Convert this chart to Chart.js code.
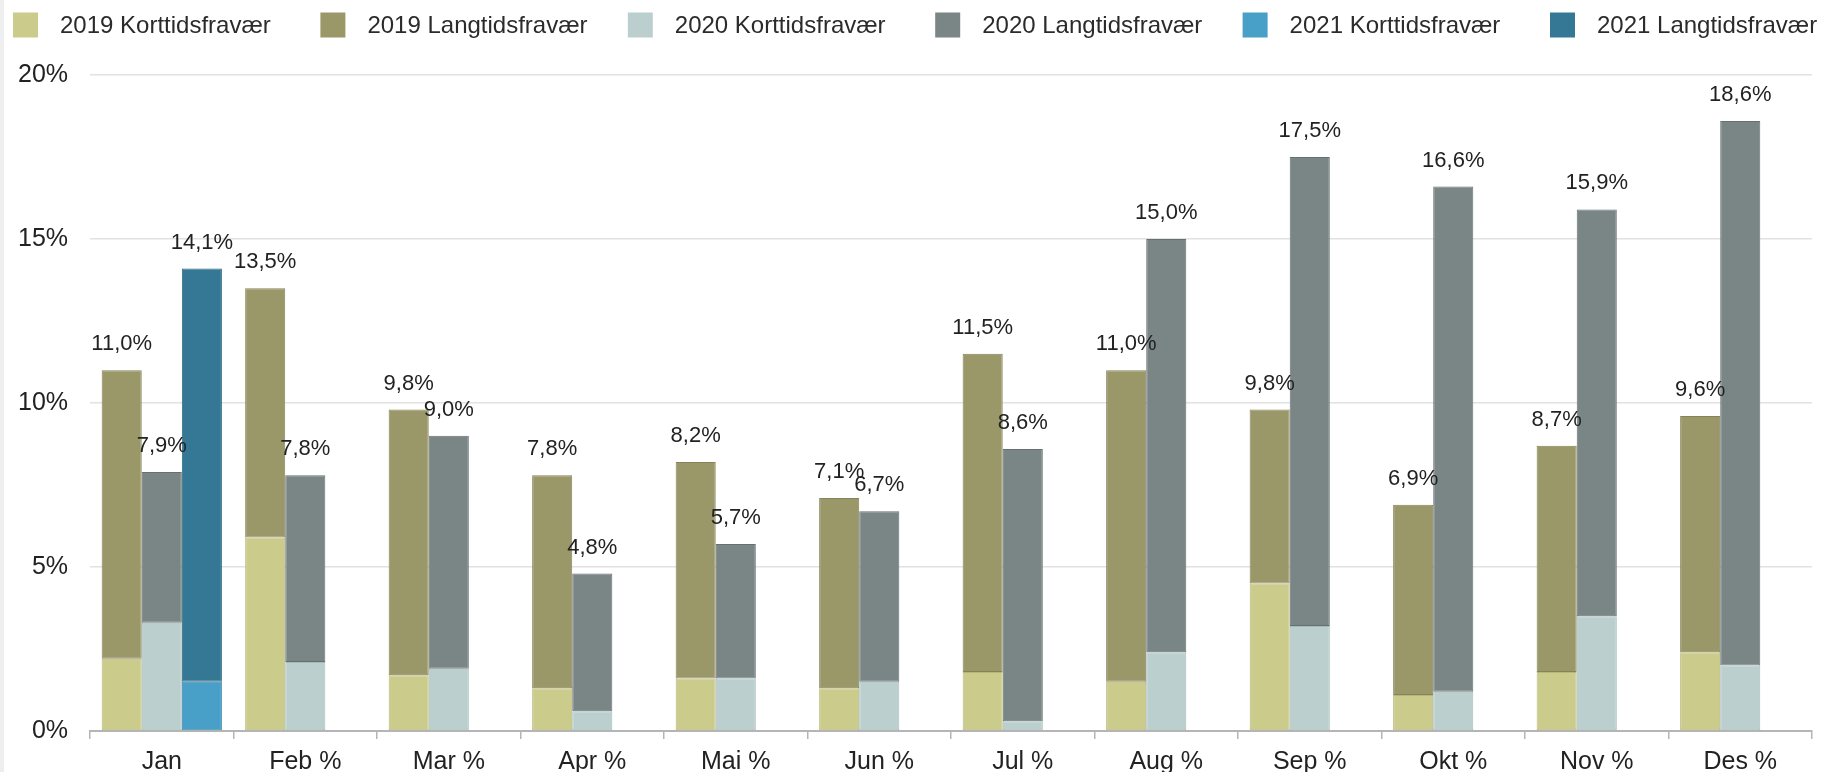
<!DOCTYPE html>
<html>
<head>
<meta charset="utf-8">
<script src="https://cdn.jsdelivr.net/npm/chart.js@4/dist/chart.umd.min.js"></script>
<style>
  html, body { margin: 0; padding: 0; background: #ffffff; }
  #wrap { width: 1821px; height: 772px; }
</style>
</head>
<body>
<div id="wrap"><canvas id="c" width="1821" height="772"></canvas></div>
<script>
// ---- data ----
const months = ['Jan', 'Feb %', 'Mar %', 'Apr %', 'Mai %', 'Jun %', 'Jul %', 'Aug %', 'Sep %', 'Okt %', 'Nov %', 'Des %'];
const seriesNames = ['2019 Korttidsfravær', '2019 Langtidsfravær', '2020 Korttidsfravær', '2020 Langtidsfravær', '2021 Korttidsfravær', '2021 Langtidsfravær'];
const kort2019 = [2.2, 5.9, 1.7, 1.3, 1.6, 1.3, 1.8, 1.5, 4.5, 1.1, 1.8, 2.4];
const lang2019 = [8.8, 7.6, 8.1, 6.5, 6.6, 5.8, 9.7, 9.5, 5.3, 5.8, 6.9, 7.2];
const kort2020 = [3.3, 2.1, 1.9, 0.6, 1.6, 1.5, 0.3, 2.4, 3.2, 1.2, 3.5, 2.0];
const lang2020 = [4.6, 5.7, 7.1, 4.2, 4.1, 5.2, 8.3, 12.6, 14.3, 15.4, 12.4, 16.6];
const kort2021 = [1.5, null, null, null, null, null, null, null, null, null, null, null];
const lang2021 = [12.6, null, null, null, null, null, null, null, null, null, null, null];
const yTicks = [0, 5, 10, 15, 20];

const FONT = "'Liberation Sans', Arial, sans-serif";

const fills   = ['#cbcb8c', '#9a9868', '#bbcfcf', '#798685', '#48a0c8', '#347896'];
const borders = ['#b7b77c', '#85835a', '#a7bbbb', '#66716f', '#3e8cb0', '#2c6983'];
const values  = [kort2019, lang2019, kort2020, lang2020, kort2021, lang2021];
const stacks  = ['2019', '2019', '2020', '2020', '2021', '2021'];

const datasets = values.map((v, i) => ({
  label: seriesNames[i],
  data: v,
  stack: stacks[i],
  backgroundColor: fills[i],
  borderColor: borders[i],
  borderWidth: 1,
  borderSkipped: false
}));

// background + thin left strip
const bgPlugin = {
  id: 'bg',
  beforeDraw(chart) {
    const ctx = chart.ctx;
    ctx.save();
    ctx.fillStyle = '#ffffff';
    ctx.fillRect(0, 0, chart.width, chart.height);
    ctx.fillStyle = '#eeeeee';
    ctx.fillRect(0, 0, 4, chart.height);
    ctx.restore();
  }
};

// legend drawn in a row across the top
const legendPlugin = {
  id: 'topLegend',
  afterDraw(chart) {
    const ctx = chart.ctx;
    ctx.save();
    ctx.font = '24px ' + FONT;
    ctx.textBaseline = 'middle';
    ctx.textAlign = 'left';
    chart.data.datasets.forEach((ds, i) => {
      const x0 = 13 + i * 307.4;
      ctx.fillStyle = ds.backgroundColor;
      ctx.fillRect(x0, 12.5, 25, 25);
      ctx.fillStyle = '#2b2b2b';
      ctx.fillText(ds.label, x0 + 47, 26);
    });
    ctx.restore();
  }
};

// total labels above each stack
const totalsPlugin = {
  id: 'totals',
  afterDatasetsDraw(chart) {
    const ctx = chart.ctx;
    const y = chart.scales.y;
    ctx.save();
    ctx.font = '22px ' + FONT;
    ctx.fillStyle = '#222222';
    ctx.textAlign = 'center';
    ctx.textBaseline = 'alphabetic';
    const groups = [[0, 1], [2, 3], [4, 5]];
    groups.forEach(g => {
      const metaTop = chart.getDatasetMeta(g[1]);
      months.forEach((m, j) => {
        const a = values[g[0]][j], b = values[g[1]][j];
        if (a == null || b == null) return;
        const total = a + b;
        const bar = metaTop.data[j];
        const py = y.getPixelForValue(total);
        ctx.fillText(total.toFixed(1).replace('.', ',') + '%', bar.x, py - 20);
      });
    });
    ctx.restore();
  }
};

new Chart(document.getElementById('c'), {
  type: 'bar',
  data: { labels: months, datasets },
  options: {
    responsive: false,
    animation: false,
    events: [],
    layout: { padding: { top: 75, right: 9, left: -4, bottom: -14 } },
    datasets: { bar: { categoryPercentage: 0.838, barPercentage: 1.0 } },
    plugins: { legend: { display: false }, tooltip: { enabled: false } },
    scales: {
      x: {
        stacked: true,
        offset: true,
        grid: {
          offset: true,
          drawOnChartArea: false,
          drawTicks: true,
          tickLength: 8,
          color: '#b5b5b5',
          lineWidth: 1.5
        },
        border: { display: true, color: '#b5b5b5', width: 2 },
        ticks: {
          font: { family: FONT, size: 25, lineHeight: 1 },
          color: '#222222',
          padding: 11,
          maxRotation: 0,
          autoSkip: false
        }
      },
      y: {
        stacked: true,
        min: 0,
        max: 20,
        afterBuildTicks(scale) { scale.ticks = yTicks.map(v => ({ value: v })); },
        grid: { color: '#e2e2e2', lineWidth: 1.5, drawTicks: false },
        border: { display: false },
        ticks: {
          font: { family: FONT, size: 25 },
          color: '#222222',
          padding: 22,
          callback: v => v + '%'
        }
      }
    }
  },
  plugins: [bgPlugin, legendPlugin, totalsPlugin]
});
</script>
</body>
</html>
